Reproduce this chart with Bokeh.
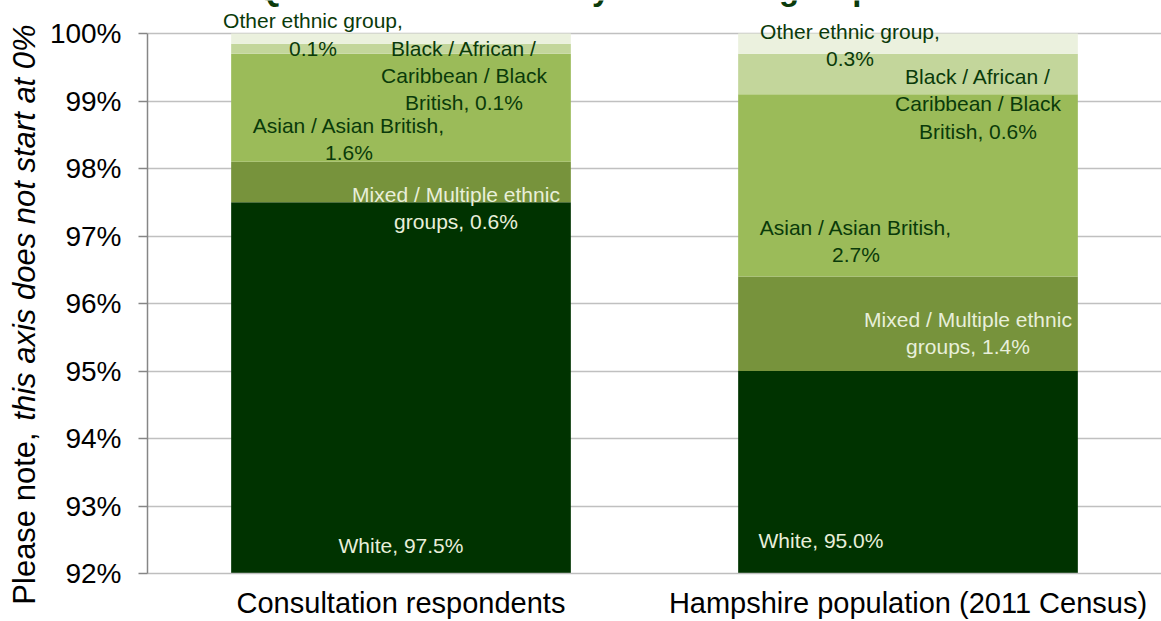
import numpy as np
from math import pi
from bokeh.plotting import figure
from bokeh.layouts import row
from bokeh.models import Range1d, FixedTicker, ColumnDataSource
from bokeh.core.properties import value
from bokeh.embed import file_html
from bokeh.resources import INLINE

# ---------------- data ----------------
categories = ["Consultation respondents", "Hampshire population (2011 Census)"]
groups = ["White", "Mixed / Multiple ethnic groups", "Asian / Asian British",
          "Black / African / Caribbean / Black British", "Other ethnic group"]
consultation = [97.5, 0.6, 1.6, 0.15, 0.15]
hampshire = [95.0, 1.4, 2.7, 0.6, 0.3]
consultation_labels = ["White, 97.5%", "Mixed / Multiple ethnic\ngroups, 0.6%",
                       "Asian / Asian British,\n1.6%",
                       "Black / African /\nCaribbean / Black\nBritish, 0.1%",
                       "Other ethnic group,\n0.1%"]
hampshire_labels = ["White, 95.0%", "Mixed / Multiple ethnic\ngroups, 1.4%",
                    "Asian / Asian British,\n2.7%",
                    "Black / African /\nCaribbean / Black\nBritish, 0.6%",
                    "Other ethnic group,\n0.3%"]
y_ticks = [92, 93, 94, 95, 96, 97, 98, 99, 100]
y_tick_labels = ["92%", "93%", "94%", "95%", "96%", "97%", "98%", "99%", "100%"]
title_text = "Question 20: What is your ethnic group"
axis_note_plain = "Please note,"
axis_note_italic = "this axis does not start at 0%"

# ---------------- styles / layout ----------------
colors = ["#003300", "#77933C", "#9BBB59", "#C3D69B", "#EBF1DE"]
label_colors = ["#E8EFDA", "#E8EFDA", "#0A3A0A", "#0A3A0A", "#0A3A0A"]
FONT = "Liberation Sans"
TOTAL_W, TOTAL_H = 1161, 621
NOTE_W = 45
W, H = TOTAL_W - NOTE_W, TOTAL_H
FRAME_LEFT, FRAME_TOP100, FRAME_BOTTOM = 147, 33, 573   # page pixels
BL = FRAME_LEFT - NOTE_W
BB = TOTAL_H - FRAME_BOTTOM
Y0, Y1 = 92, 100
PX_Y = (FRAME_BOTTOM - FRAME_TOP100) / float(Y1 - Y0)
Y_TOP = Y1 + FRAME_TOP100 / PX_Y           # frame reaches the top of the page
PX_X = (W - BL) / 2.0
bar_width = 0.67
# label pixel offsets (right, down) from (bar centre, visible segment middle)
offsets = [
    [(0, 158), (55, 26), (-52, 31), (63, 27), (-88, -4)],
    [(-87, 68), (60, 9), (-52, 56), (70, 30), (-58, 1.5)],
]

p = figure(width=W, height=H, output_backend="svg", toolbar_location=None,
           title=None, x_range=Range1d(0, 2), y_range=Range1d(Y0, Y_TOP),
           min_border_left=BL, min_border_right=0, min_border_top=0,
           min_border_bottom=BB)
p.frame_align = False
p.outline_line_color = None
p.background_fill_color = "white"
p.border_fill_color = "white"

series = [consultation, hampshire]
all_labels = [consultation_labels, hampshire_labels]
centers = [0.5, 1.5]

bx, bb, bt, bc = [], [], [], []
tx, ty, tt, tc = [], [], [], []
for ci, vals in enumerate(series):
    tops = np.cumsum(vals)
    bottoms = np.concatenate([[0.0], tops[:-1]])
    for gi in range(len(vals)):
        bx.append(centers[ci]); bb.append(bottoms[gi]); bt.append(tops[gi]); bc.append(colors[gi])
        vis_b = max(bottoms[gi], Y0)
        mid = (vis_b + tops[gi]) / 2.0
        dx, dy = offsets[ci][gi]
        tx.append(centers[ci] + dx / PX_X)
        ty.append(mid - dy / PX_Y)
        tt.append(all_labels[ci][gi])
        tc.append(label_colors[gi])

p.vbar(x=bx, bottom=bb, top=bt, width=bar_width, fill_color=bc, line_color=None)

src = ColumnDataSource(dict(x=tx, y=ty, text=tt, color=tc))
p.text(x="x", y="y", text="text", source=src, text_color="color",
       text_font=value(FONT), text_font_size="21px", text_align="center",
       text_baseline="middle", text_line_height=1.18)

# grid
p.xgrid.grid_line_color = None
p.ygrid.ticker = FixedTicker(ticks=y_ticks)
p.ygrid.grid_line_color = "#C0C0C0"
p.ygrid.grid_line_width = 1.5

# y axis
p.yaxis.ticker = FixedTicker(ticks=y_ticks)
p.yaxis.bounds = (Y0, Y1)
p.yaxis.major_label_overrides = {t: l for t, l in zip(y_ticks, y_tick_labels)}
p.yaxis.major_label_text_font = FONT
p.yaxis.major_label_text_font_size = "28px"
p.yaxis.major_label_text_color = "#000000"
p.yaxis.axis_line_color = "#868686"
p.yaxis.axis_line_width = 1.5
p.yaxis.major_tick_line_color = "#868686"
p.yaxis.major_tick_line_width = 1.5
p.yaxis.major_tick_in = 0
p.yaxis.major_tick_out = 9
p.yaxis.minor_tick_line_color = None
p.yaxis.major_label_standoff = 17

# x axis
p.xaxis.ticker = FixedTicker(ticks=centers)
p.xaxis.major_label_overrides = {c: n for c, n in zip(centers, categories)}
p.xaxis.major_label_text_font = FONT
p.xaxis.major_label_text_font_size = "29px"
p.xaxis.major_label_text_color = "#000000"
p.xaxis.axis_line_color = "#BEBEBE"
p.xaxis.axis_line_width = 1.5
p.xaxis.major_tick_line_color = None
p.xaxis.minor_tick_line_color = None
p.xaxis.major_tick_in = 0
p.xaxis.major_tick_out = 0
p.xaxis.major_label_standoff = 13

# title (cut off at the top of the page, as in the reference)
title_x = (564 - NOTE_W - BL) / PX_X
title_y = Y1 + (FRAME_TOP100 + 12) / PX_Y
p.text(x=[title_x], y=[title_y], text=[title_text], text_align="center",
       text_baseline="middle", text_font=value(FONT), text_font_size="33px",
       text_font_style="bold", text_color="#0B3B0B")

# rotated axis note (plain + italic) in its own narrow panel
note = figure(width=NOTE_W, height=TOTAL_H, output_backend="svg",
              toolbar_location=None, title=None,
              x_range=Range1d(0, NOTE_W), y_range=Range1d(TOTAL_H, 0),
              x_axis_type=None, y_axis_type=None,
              min_border_left=0, min_border_right=0, min_border_top=0,
              min_border_bottom=0)
note.frame_align = False
note.outline_line_color = None
note.grid.grid_line_color = None
note.text(x=[24], y=[518], text=[axis_note_plain], angle=pi / 2,
          text_align="center", text_baseline="middle", text_font=value(FONT),
          text_font_size="31px", text_color="#000000")
note.text(x=[24], y=[222], text=[axis_note_italic], angle=pi / 2,
          text_align="center", text_baseline="middle", text_font=value(FONT),
          text_font_size="31px", text_font_style="italic", text_color="#000000")

layout = row(note, p)
open("out.html", "w").write(file_html(layout, INLINE))
